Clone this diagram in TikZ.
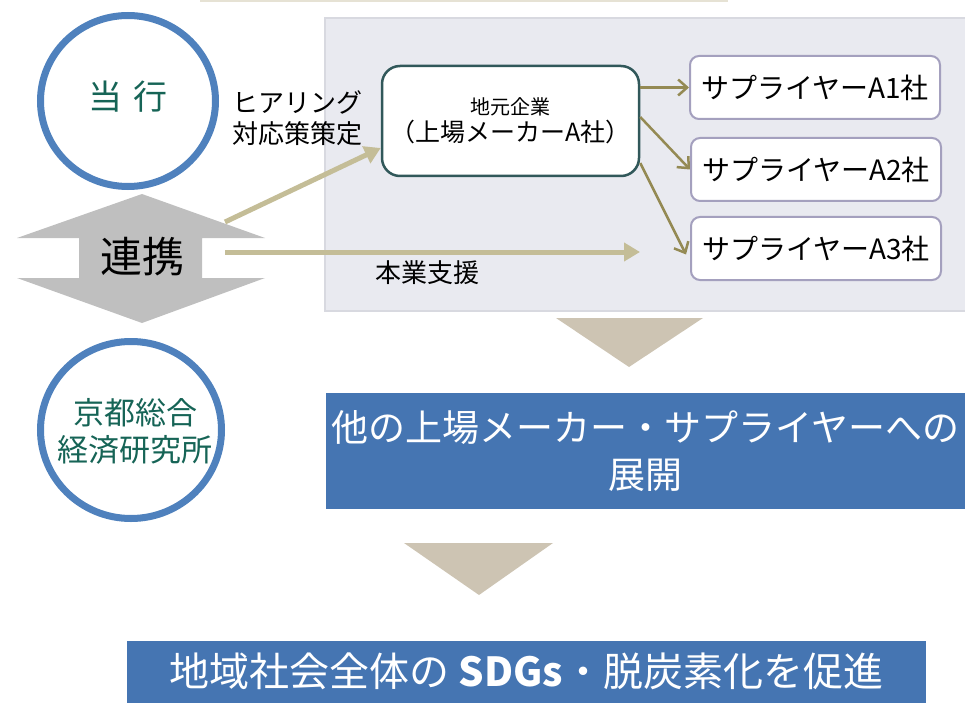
\documentclass[tikz,border=0pt]{standalone}
\usepackage{fontspec}
\setmainfont{Noto Sans CJK JP}
\usepackage{tikz}
\usetikzlibrary{shapes.geometric,arrows.meta,positioning}

\definecolor{ringblue}{RGB}{79,129,189}
\definecolor{tealtext}{RGB}{22,100,86}
\definecolor{panelgray}{RGB}{233,234,240}
\definecolor{panelline}{RGB}{216,217,224}
\definecolor{tanline}{RGB}{196,189,151}
\definecolor{olivearrow}{RGB}{148,138,84}
\definecolor{mainedge}{RGB}{49,88,90}
\definecolor{supedge}{RGB}{164,160,190}
\definecolor{wedge}{RGB}{205,196,179}
\definecolor{boxblue}{RGB}{69,117,178}
\definecolor{topline}{RGB}{230,226,212}
\definecolor{arrowgray}{RGB}{191,191,191}

\begin{document}
\begin{tikzpicture}[x=1pt,y=-1pt,
  ring/.style={draw=ringblue,line width=7pt,ellipse,inner sep=0pt},
  ringtext/.style={text=tealtext,align=center},
  supbox/.style={draw=supedge,line width=2pt,fill=white,rounded corners=9pt,minimum width=250pt,minimum height=63pt,font=\fontsize{28}{30}\selectfont},
  tanarrow/.style={draw=tanline,line width=5pt,-{Triangle[length=16pt,width=18pt]}},
  olarrow/.style={draw=olivearrow,line width=2.5pt,-{Straight Barb[length=9pt,width=16pt]}},
  bluebox/.style={fill=boxblue,text=white,align=center,inner sep=0pt},
  note/.style={align=center,font=\fontsize{26}{31}\selectfont}
]
\useasboundingbox (0,0) rectangle (965,703);

% background pieces
\draw[topline,line width=2pt] (200,0.8) -- (728,0.8);
\draw[fill=panelgray,draw=panelline,line width=1.5pt] (325,18) rectangle (975,311);

% renkei double arrow
\fill[arrowgray] (142,194) -- (265,238) -- (202,238) -- (202,278) -- (265,278) -- (142,323)
  -- (17,278) -- (79,278) -- (79,238) -- (17,238) -- cycle;
\node[name=renkei,font=\fontsize{42}{42}\selectfont] at (142,257) {連携};

\node[name=toko,ring,minimum width=175pt,minimum height=171pt] at (128,101) {};
\node[name=toko-text,ringtext,font=\fontsize{34}{36}\selectfont] at (128,97) {当\hspace{12pt}行};
\node[name=soken,ring,minimum width=181pt,minimum height=177pt] at (131,430) {};
\node[name=soken-text,ringtext,font=\fontsize{31}{37}\selectfont] at (135,431) {京都総合\\経済研究所};

\node[name=jimoto,draw=mainedge,line width=2.5pt,fill=white,rounded corners=18pt,minimum width=257pt,minimum height=110pt,align=center] at (510.5,121)
  {{\fontsize{20}{22}\selectfont 地元企業}\\[3pt]{\fontsize{25}{29}\selectfont （上場メーカーA社）}};

\node[name=sup-a1,supbox] at (815,87.5) {サプライヤーA1社};
\node[name=sup-a2,supbox] at (816,169.5) {サプライヤーA2社};
\node[name=sup-a3,supbox] at (816,248.5) {サプライヤーA3社};

\draw[olarrow] (jimoto.east |- sup-a1.west) -- (sup-a1.west);
\draw[olarrow] ([yshift=4pt]jimoto.east) -- (sup-a2.west);
\draw[olarrow] ([yshift=-42pt]jimoto.east) -- ([xshift=-4pt,yshift=-6pt]sup-a3.west);

\coordinate (renkei-up) at (225,222);
\coordinate (renkei-side) at (225,252);
\coordinate (honbu-end) at (640,252);
\draw[tanarrow] (renkei-up) -- ([yshift=-27pt]jimoto.west);
\draw[tanarrow] (renkei-side) -- (honbu-end);

\node[name=hearing,note] at (297,118) {ヒアリング\\対応策策定};
\node[name=honbu,note] at (427,273) {本業支援};

% down wedges
\fill[wedge] (556,318) -- (703,318) -- (629,367) -- cycle;
\fill[wedge] (404,543) -- (553,543) -- (479,595) -- cycle;

\node[name=tenkai,bluebox,minimum width=639pt,minimum height=116pt,font=\fontsize{37}{47}\selectfont] at (645.5,451)
  {他の上場メーカー・サプライヤーへの\\展開};
\node[name=sdgs,bluebox,minimum width=799pt,minimum height=62pt,font=\fontsize{40}{42}\selectfont] at (526.5,672)
  {\raisebox{5pt}{地域社会全体の \textbf{SDGs}・脱炭素化を促進}};
\end{tikzpicture}
\end{document}
